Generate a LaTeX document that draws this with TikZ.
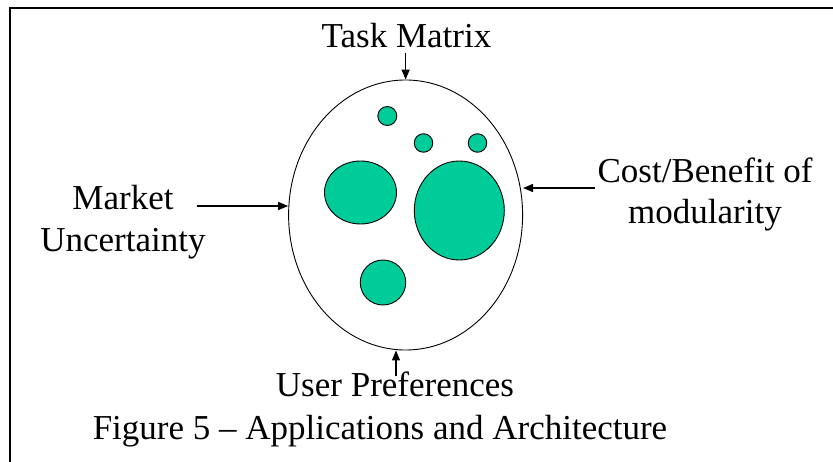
\documentclass[tikz,border=0pt]{standalone}
\usepackage{fontspec}
\setmainfont{Liberation Serif}
\usetikzlibrary{shapes.geometric,arrows.meta}
\definecolor{blobgreen}{RGB}{0,204,153}
\begin{document}
\begin{tikzpicture}[x=1pt,y=-1pt,
  lbl/.style={font=\fontsize{35}{41.7}\selectfont, inner sep=0pt, align=center},
  blob/.style={draw=black, fill=blobgreen, line width=0.9pt, ellipse, inner sep=0pt},
  conn/.style={line width=1.4pt, -{Triangle[length=10pt,width=8pt]}},
  frame/.style={line width=1.5pt}]
\useasboundingbox (0,0) rectangle (833,462);
% frame
\draw[frame] (10,462) -- (10,8) -- (833,8);
% big ellipse
\node[draw, ellipse, line width=0.9pt, inner sep=0pt, minimum width=234pt, minimum height=270pt] (big) at (405.6,215) {};
% blobs
\node[blob, minimum width=19pt, minimum height=19pt] (c1) at (387.3,116) {};
\node[blob, minimum width=18.5pt, minimum height=18.5pt] (c2) at (423.5,143) {};
\node[blob, minimum width=18.5pt, minimum height=18.5pt] (c3) at (477.5,143) {};
\node[blob, minimum width=72pt, minimum height=63pt] (e1) at (360.5,192.5) {};
\node[blob, minimum width=90pt, minimum height=99pt] (e2) at (459.3,210.5) {};
\node[blob, minimum width=45.5pt, minimum height=45pt] (c4) at (383,282.5) {};
% labels
\node[lbl, anchor=base] (tm) at (406.5,47.3) {Task Matrix};
\node[lbl, anchor=base] (mu) at (123,251.7) {Market\\Uncertainty};
\node[lbl, anchor=base] (cb) at (705,224) {Cost/Benefit of\\modularity};
\node[lbl, anchor=base] (up) at (395,396.7) {User Preferences};
\node[lbl, anchor=base] (cap) at (380,439) {Figure 5 -- Applications and Architecture};
% connectors
\coordinate (tmt) at (405.6,53);
\coordinate (mut) at (197,206);
\coordinate (cbt) at (595,188);
\coordinate (upt) at (396,376);
\draw[conn] (tmt) -- (big.north);
\draw[conn] (mut) -- (mut -| big.west);
\draw[conn] (cbt) -- (cbt -| big.east);
\draw[conn] (upt) -- (upt |- big.south);
\end{tikzpicture}
\end{document}
